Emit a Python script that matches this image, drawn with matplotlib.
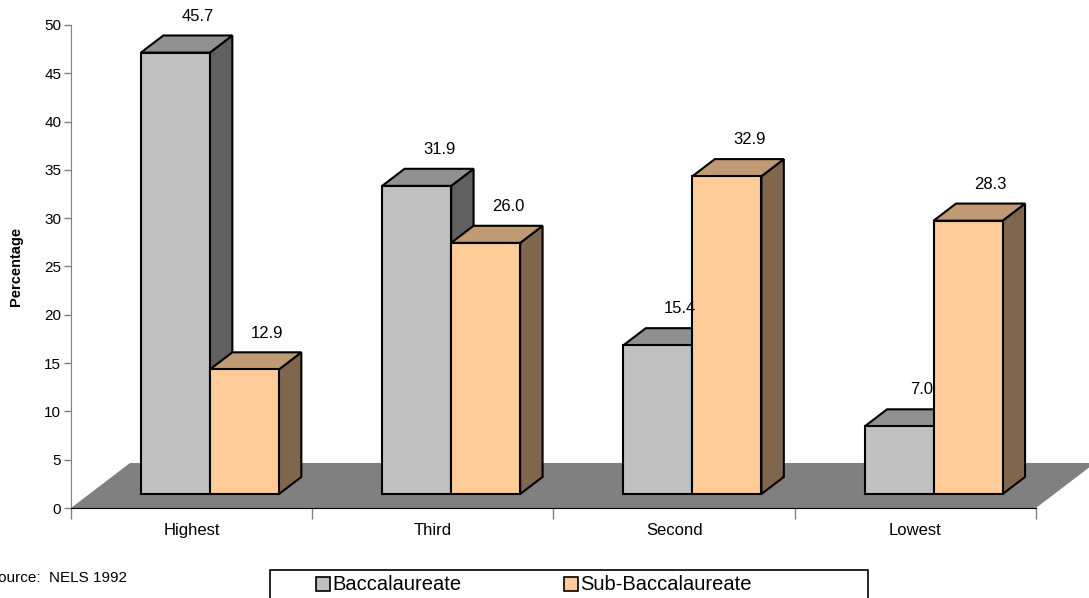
import matplotlib
matplotlib.use("Agg")
import matplotlib.pyplot as plt
from matplotlib.patches import Polygon, Rectangle

plt.rcParams['font.family'] = ['Liberation Sans', 'DejaVu Sans']

# data
categories = ['Highest', 'Third', 'Second', 'Lowest']
baccalaureate = [45.7, 31.9, 15.4, 7.0]
sub_baccalaureate = [12.9, 26.0, 32.9, 28.3]
series_names = ['Baccalaureate', 'Sub-Baccalaureate']

# colours (front, top, side)
gray_cols = ('#C0C0C0', '#909090', '#606060')
orange_cols = ('#FFCC99', '#C09A73', '#80664D')
floor_col = '#808080'

# 3d look: depth vector of the floor in data units
depth_x = 0.2446
depth_y = 4.66
t_front = 0.31   # bar front plane (fraction of floor depth)
t_back = 0.69    # bar back plane
bar_w = 0.286

fig = plt.figure(figsize=(10.89, 5.98), dpi=100)
ax = fig.add_axes([0.0652, 0.1505, 0.8861, 0.8077])
ax.set_xlim(0, len(categories))
ax.set_ylim(0, 50)

# floor
n = len(categories)
floor = Polygon([(0, 0), (n, 0), (n + depth_x, depth_y), (depth_x, depth_y)],
                closed=True, facecolor=floor_col, edgecolor='none',
                clip_on=False, zorder=1)
ax.add_patch(floor)


def bar3d(ax, x0, h, cols, z):
    fx, fy = t_front * depth_x, t_front * depth_y
    bx, by = t_back * depth_x, t_back * depth_y
    x1 = x0 + bar_w
    kw = dict(closed=True, edgecolor='black', linewidth=1.5,
              joinstyle='miter', clip_on=False, zorder=z)
    # side
    ax.add_patch(Polygon([(x1 + fx, fy), (x1 + bx, by), (x1 + bx, h + by),
                          (x1 + fx, h + fy)], facecolor=cols[2], **kw))
    # top
    ax.add_patch(Polygon([(x0 + fx, h + fy), (x1 + fx, h + fy),
                          (x1 + bx, h + by), (x0 + bx, h + by)],
                         facecolor=cols[1], **kw))
    # front
    ax.add_patch(Polygon([(x0 + fx, fy), (x1 + fx, fy), (x1 + fx, h + fy),
                          (x0 + fx, h + fy)], facecolor=cols[0], **kw))
    # value label above the back of the top face
    ax.text((x0 + x1) / 2 + bx, h + by + 2.0, f'{h:.1f}', ha='center',
            va='center', fontsize=12, clip_on=False, zorder=10)


for i in range(n):
    z = 2 + i * 2
    bar3d(ax, i + 0.5 - bar_w, baccalaureate[i], gray_cols, z)
    bar3d(ax, i + 0.5, sub_baccalaureate[i], orange_cols, z + 1)

# axes styling
for s in ['top', 'right']:
    ax.spines[s].set_visible(False)
ax.spines['left'].set_color('#808080')
ax.spines['bottom'].set_color('black')
ax.spines['left'].set_zorder(0.5)
ax.spines['bottom'].set_zorder(20)
ax.spines['left'].set_bounds(0, 50)
ax.set_yticks(range(0, 51, 5))
ax.tick_params(axis='y', direction='out', length=5, width=1, color='#808080',
               labelsize=11, pad=2)
ax.set_xticks(range(0, n + 1))
ax.set_xticklabels([])
ax.tick_params(axis='x', which='major', direction='out', length=8, width=1,
               color='#808080')
ax.set_xticks([i + 0.5 for i in range(n)], minor=True)
ax.set_xticklabels(categories, minor=True)
ax.tick_params(axis='x', which='minor', length=0, labelsize=12, pad=11)
ax.set_ylabel('Percentage', fontsize=10.5, fontweight='bold')
ax.yaxis.set_label_coords(-0.05, 0.5)

# source note (cut off at the left edge, as in the original)
fig.text(127 / 1089, 20 / 598, 'Source:  NELS 1992', fontsize=11,
         ha='right', va='center')

# legend box
leg_box = Rectangle((270 / 1089, -0.01), 598 / 1089, (598 - 570) / 598 + 0.01,
                    transform=fig.transFigure, facecolor='white',
                    edgecolor='black', linewidth=1.2)
fig.patches.append(leg_box)
for name, cols, xs in zip(series_names, [gray_cols, orange_cols], [316, 564]):
    fig.patches.append(Rectangle((xs / 1089, 7 / 598), 14 / 1089, 14 / 598,
                                 transform=fig.transFigure, facecolor=cols[0],
                                 edgecolor='black', linewidth=1.2))
    fig.text((xs + 16) / 1089, 13 / 598, name, fontsize=14.5, ha='left',
             va='center')

fig.savefig('out.png', dpi=100)
